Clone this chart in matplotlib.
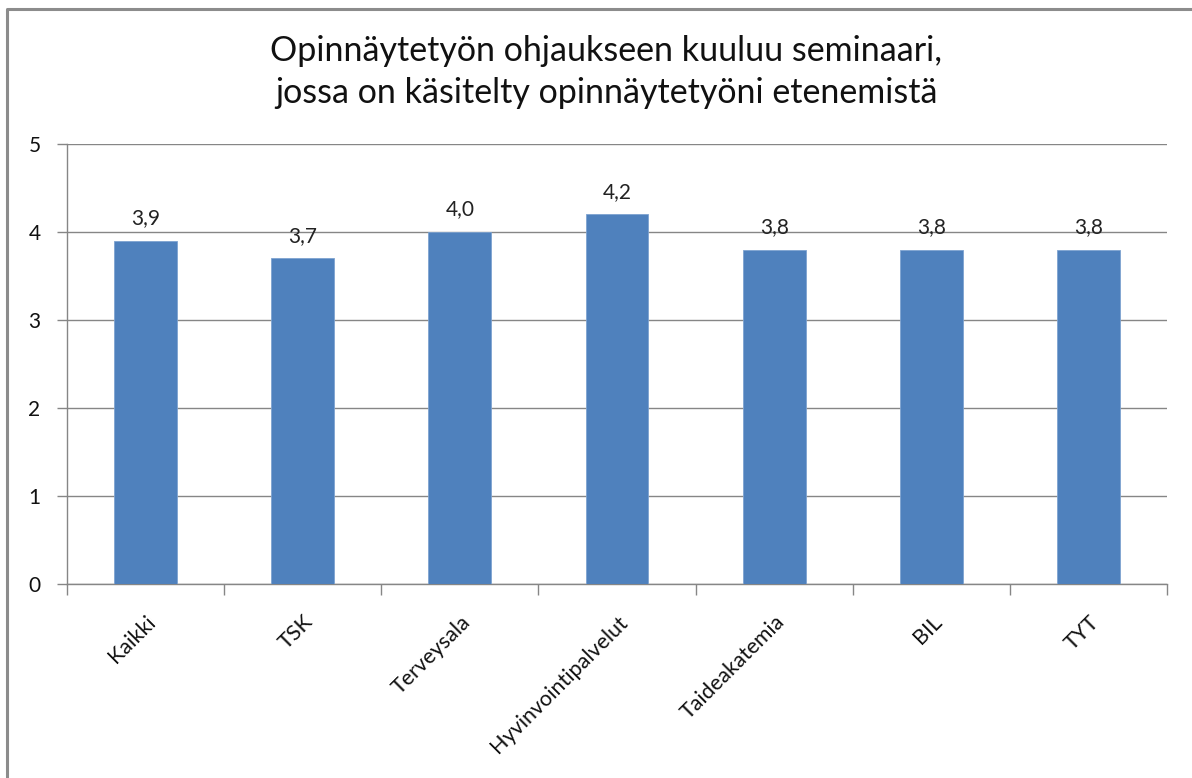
import matplotlib
matplotlib.use("Agg")
import matplotlib.pyplot as plt
from matplotlib.lines import Line2D

categories = ["Kaikki", "TSK", "Terveysala", "Hyvinvointipalvelut", "Taideakatemia", "BIL", "TYT"]
values = [3.9, 3.7, 4.0, 4.2, 3.8, 3.8, 3.8]
value_labels = ["3,9", "3,7", "4,0", "4,2", "3,8", "3,8", "3,8"]
yticks = [0, 1, 2, 3, 4, 5]
title = "Opinnäytetyön ohjaukseen kuuluu seminaari,\njossa on käsitelty opinnäytetyöni etenemistä"

plt.rcParams['font.family'] = ['Lato', 'DejaVu Sans']

W, H = 1192, 778
fig = plt.figure(figsize=(W / 100, H / 100), dpi=100)
ax = fig.add_axes([67 / W, 1 - 584 / H, (1167 - 67) / W, (584 - 144) / H])

grid_c = "#868686"
x = list(range(len(categories)))
bars = ax.bar(x, values, width=0.4, color="#4F81BD", edgecolor="#7EA3D0", linewidth=0.6, zorder=3)

ax.set_xlim(-0.5, len(categories) - 0.5)
ax.set_ylim(0, 5)
ax.set_yticks(yticks)
ax.set_yticklabels([str(t) for t in yticks], fontsize=15, color="#111111")
ax.yaxis.grid(True, color=grid_c, linewidth=1.0, zorder=0)
ax.set_axisbelow(True)

ax.set_xticks([i - 0.5 for i in range(len(categories) + 1)], minor=False)
ax.set_xticklabels([])
ax.set_xticks(x, minor=True)
ax.set_xticklabels(categories, minor=True, rotation=45, ha="right", rotation_mode="anchor",
                   fontsize=15.5, color="#111111")
ax.tick_params(axis="x", which="major", length=8, color=grid_c, width=1)
ax.tick_params(axis="x", which="minor", length=0, pad=20)
ax.tick_params(axis="y", length=7, color=grid_c, width=1, pad=12)

for s in ["top", "right"]:
    ax.spines[s].set_visible(False)
for s in ["left", "bottom"]:
    ax.spines[s].set_color(grid_c)
    ax.spines[s].set_linewidth(1.0)

for xi, v, lab in zip(x, values, value_labels):
    ax.annotate(lab, (xi, v), xytext=(0, 9), textcoords="offset points",
                ha="center", va="bottom", fontsize=15, color="#222222")

fig.text(606 / W, 1 - 35 / H, title, ha="center", va="top", fontsize=24.5,
         color="#111111", linespacing=1.38)

# outer chart border
fig.add_artist(Line2D([7.5 / W, 7.5 / W, 1.0], [0, 1 - 8.5 / H, 1 - 8.5 / H],
                      transform=fig.transFigure, color="#8C8C8C", linewidth=2.2))

fig.savefig("out.png", dpi=100)
